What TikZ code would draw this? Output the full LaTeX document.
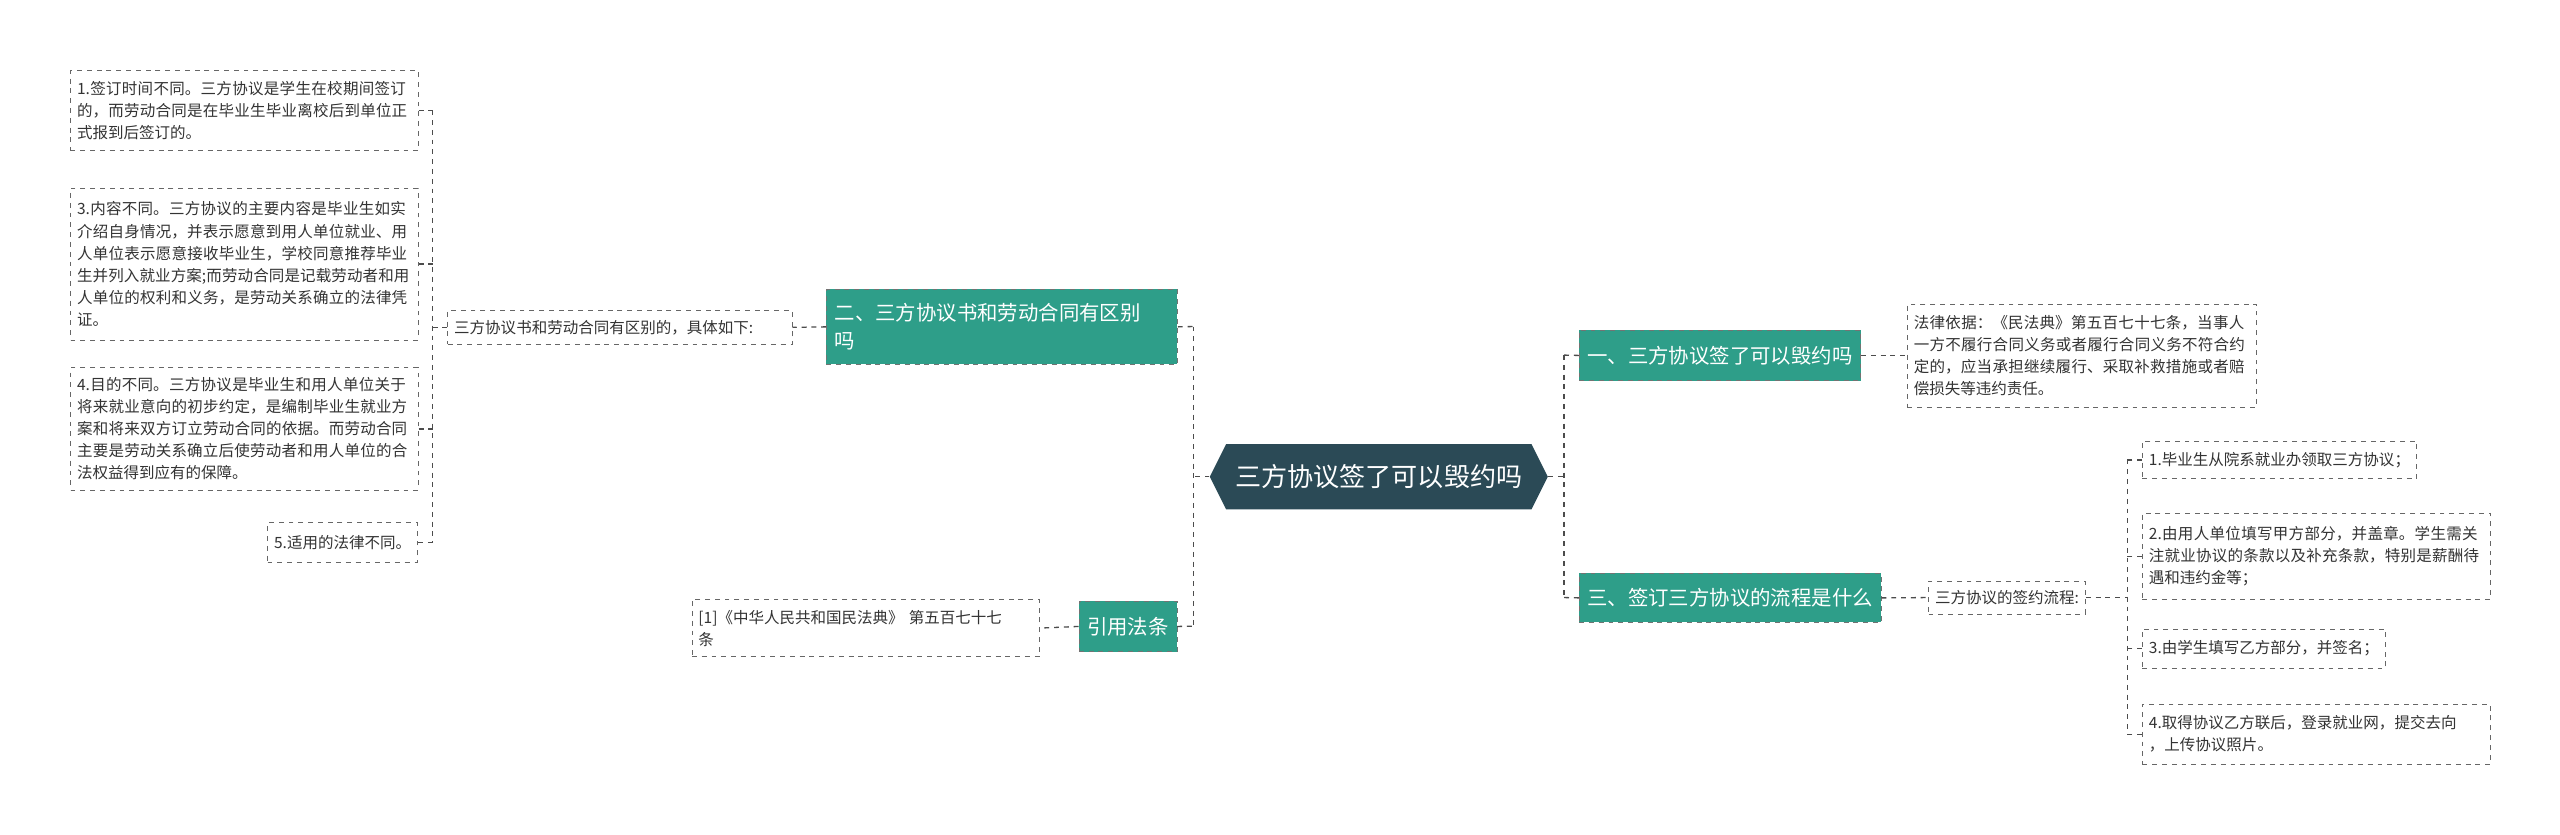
\documentclass[tikz,border=0pt]{standalone}
\usepackage{fontspec}
\setmainfont{Noto Sans CJK SC}
\XeTeXlinebreaklocale "zh"
\XeTeXlinebreakskip=0pt plus 1pt
\begin{document}
\begin{tikzpicture}[x=1pt,y=-1pt,
  leaf/.style={draw=black!60,dashed,fill=white,font=\fontsize{9.5}{13.5}\selectfont,text=black!80,align=left,inner sep=4pt,anchor=north west},
  branch/.style={draw=black!55,dashed,fill=brtl,font=\fontsize{12.5}{17}\selectfont,text=white,align=left,inner sep=5pt,anchor=north west},
  con/.style={draw=black!70,dashed,line width=0.8pt}]
\definecolor{brtl}{HTML}{2E9E89}
\definecolor{ctr}{HTML}{2B4A56}
\fill[white] (0,0) rectangle (1568,511);
\useasboundingbox (0,0) rectangle (1568,511);
% central
\fill[ctr] (741,292) -- (751,272) -- (938,272) -- (948,292) -- (938,312) -- (751,312) -- cycle;
\node[text=white,font=\fontsize{16}{20}\selectfont,minimum width=207pt,minimum height=40pt,inner sep=0pt] (c) at (844.5,292) {三方协议签了可以毁约吗};
% left
\node[branch,text width=205pt,minimum height=46pt] (b1) at (506,177) {二、三方协议书和劳动合同有区别\\吗};
\node[leaf,text width=203pt,minimum height=21pt,anchor=west] (b1c) at (274,200.5) {三方协议书和劳动合同有区别的，具体如下:};
\node[leaf,text width=205pt,minimum height=49pt] (l1) at (43,43) {1.签订时间不同。三方协议是学生在校期间签订的，而劳动合同是在毕业生毕业离校后到单位正式报到后签订的。};
\node[leaf,text width=205pt,minimum height=93pt] (l3) at (43,115) {3.内容不同。三方协议的主要内容是毕业生如实介绍自身情况，并表示愿意到用人单位就业、用人单位表示愿意接收毕业生，学校同意推荐毕业生并列入就业方案;而劳动合同是记载劳动者和用人单位的权利和义务，是劳动关系确立的法律凭证。};
\node[leaf,text width=205pt,minimum height=75pt] (l4) at (43,225) {4.目的不同。三方协议是毕业生和用人单位关于将来就业意向的初步约定，是编制毕业生就业方案和将来双方订立劳动合同的依据。而劳动合同主要是劳动关系确立后使劳动者和用人单位的合法权益得到应有的保障。};
\node[leaf,minimum height=24pt,anchor=north east] (l5) at (256,320) {5.适用的法律不同。};
\node[branch,minimum height=31pt,anchor=north east] (b2) at (721,368) {引用法条};
\node[leaf,text width=205pt,minimum height=35pt,anchor=north east] (b2c) at (637,367) {[1]《中华人民共和国民法典》 第五百七十七\\条};
% right
\node[branch,minimum height=31pt] (r1) at (967,202) {一、三方协议签了可以毁约吗};
\node[leaf,text width=206pt,minimum height=63pt] (r1c) at (1168,186) {法律依据：《民法典》第五百七十七条，当事人一方不履行合同义务或者履行合同义务不符合约定的，应当承担继续履行、采取补救措施或者赔偿损失等违约责任。};
\node[branch,minimum height=30pt] (r2) at (967,351) {三、签订三方协议的流程是什么};
\node[leaf,minimum height=20pt,anchor=west] (r2c) at (1181,366) {三方协议的签约流程:};
\node[leaf,minimum height=23pt] (s1) at (1312,270) {1.毕业生从院系就业办领取三方协议；};
\node[leaf,text width=205pt,minimum height=53pt] (s2) at (1312,314) {2.由用人单位填写甲方部分，并盖章。学生需关注就业协议的条款以及补充条款，特别是薪酬待遇和违约金等；};
\node[leaf,minimum height=24pt] (s3) at (1312,385) {3.由学生填写乙方部分，并签名；};
\node[leaf,text width=205pt,minimum height=37pt] (s4) at (1312,431) {4.取得协议乙方联后，登录就业网，提交去向\\，上传协议照片。};
% connectors
\draw[con] (c.west) -- (731,292);
\draw[con] (731,200) -- (731,383);
\draw[con] (b1.east) -- (731,200);
\draw[con] (b2.east) -- (731,383.5);
\draw[con] (c.east) -- (958,292);
\draw[con] (958,217.5) -- (958,366);
\draw[con] (958,217.5) -- (r1.west);
\draw[con] (958,366) -- (r2.west);
\draw[con] (b1.west) -- (b1c.east);
\draw[con] (b2.west) -- (b2c.east);
\draw[con] (r1.east) -- (r1c.west);
\draw[con] (r2.east) -- (r2c.west);
\draw[con] (b1c.west) -- (265,200.5);
\draw[con] (265,67.5) -- (265,332);
\foreach \n in {l1,l3,l4,l5} \draw[con] (\n.east) -- (265,0 |- \n.east);
\draw[con] (r2c.east) -- (1303,366);
\draw[con] (1303,281.5) -- (1303,449.5);
\foreach \n in {s1,s2,s3,s4} \draw[con] (\n.west) -- (1303,0 |- \n.west);
\end{tikzpicture}
\end{document}
